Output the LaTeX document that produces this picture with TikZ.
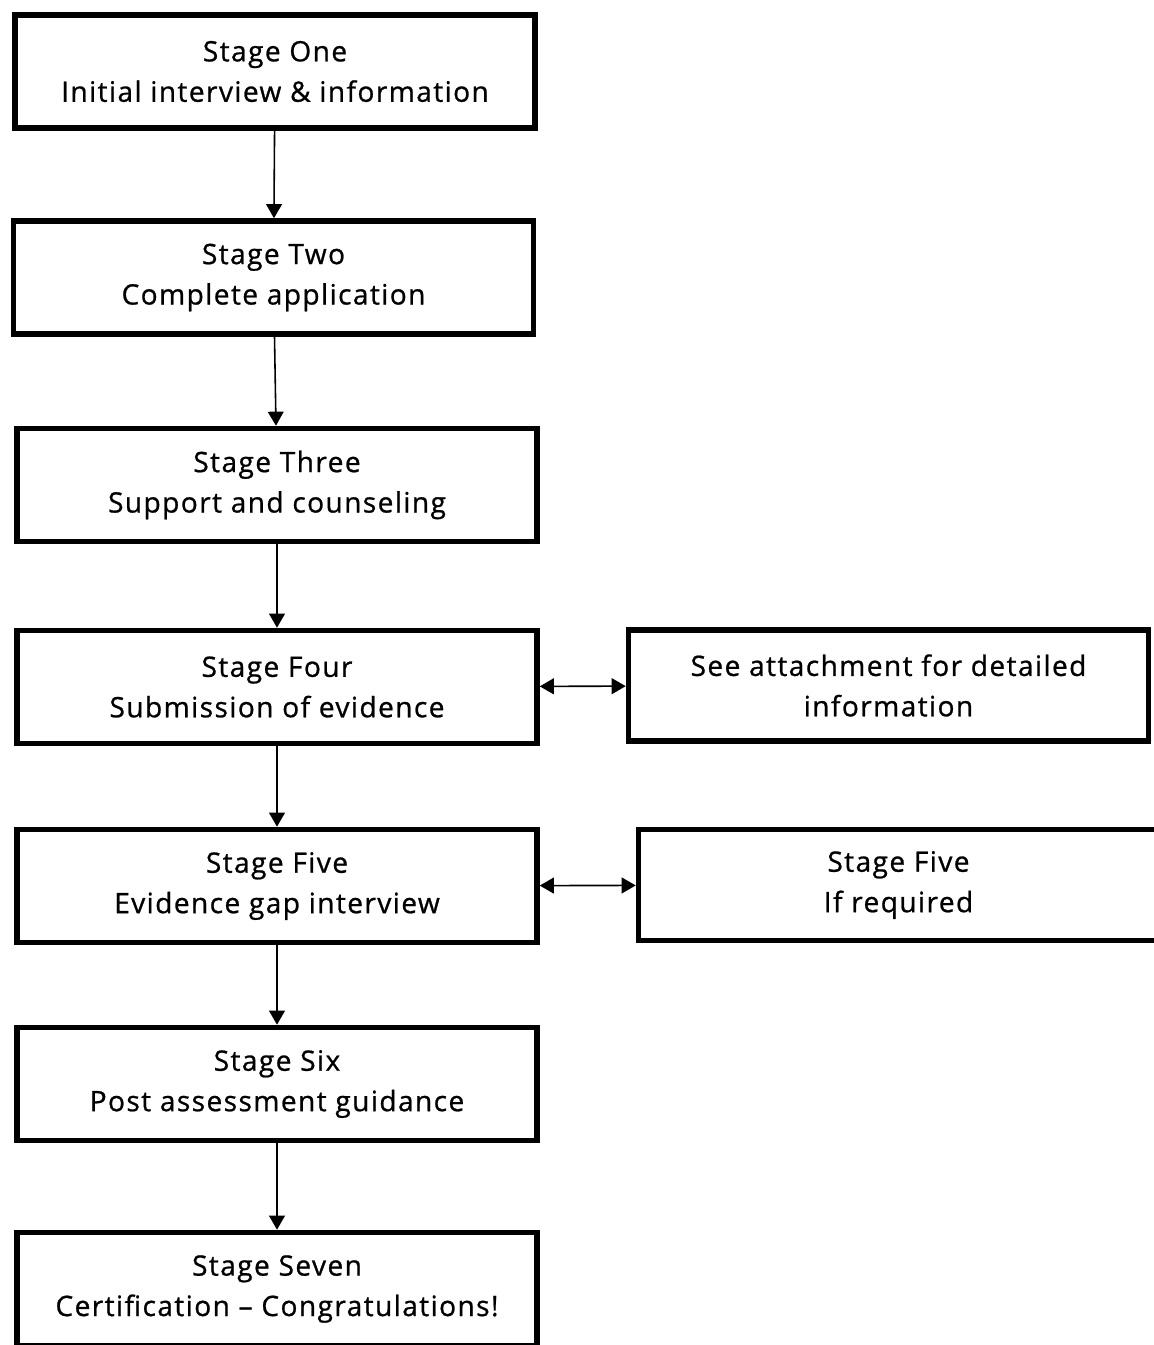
\documentclass[tikz,border=0pt]{standalone}
\usepackage{fontspec}
\setmainfont{Open Sans}[UprightFeatures={FakeBold=0.8}, LetterSpace=5]
\usetikzlibrary{positioning,arrows.meta}

\begin{document}
\begin{tikzpicture}[x=0.02cm,y=-0.02cm,
    stagebox/.style={draw, line width=3.2pt, minimum width=10.4cm, minimum height=2.26cm,
        inner sep=0pt, align=center, font=\fontsize{16}{23}\selectfont},
    flow/.style={-{Triangle[width=9pt,length=8pt]}, line width=0.9pt},
    both/.style={{Triangle[width=9pt,length=8pt]}-{Triangle[width=9pt,length=8pt]}, line width=0.9pt}]
\useasboundingbox (0,0) rectangle (1153,1345);

\node[stagebox] (s1) at (275,71.5) {Stage One\\Initial interview \& information};
\node[stagebox] (s2) at (273.5,277.5) {Stage Two\\Complete application};
\node[stagebox] (s3) at (277,485) {Stage Three\\Support and counseling};
\node[stagebox] (s4) at (277,687) {Stage Four\\Submission of evidence};
\node[stagebox] (s5) at (277,886) {Stage Five\\Evidence gap interview};
\node[stagebox] (s6) at (277,1084) {Stage Six\\Post assessment guidance};
\node[stagebox] (s7) at (277,1289) {Stage Seven\\Certification -- Congratulations!};

% side boxes
\node[stagebox, minimum height=2.22cm] (d4) at (888.5,685.5) {See attachment for detailed\\information};
\node[stagebox, minimum height=2.22cm] (d5) at (898.5,885) {Stage Five\\If required};

\foreach \a/\b in {s1/s2,s2/s3,s3/s4,s4/s5,s5/s6,s6/s7}
    \draw[flow] (\a) -- (\b);

\draw[both] (s4) -- (d4);
\draw[both] (s5) -- (d5);

\end{tikzpicture}
\end{document}
